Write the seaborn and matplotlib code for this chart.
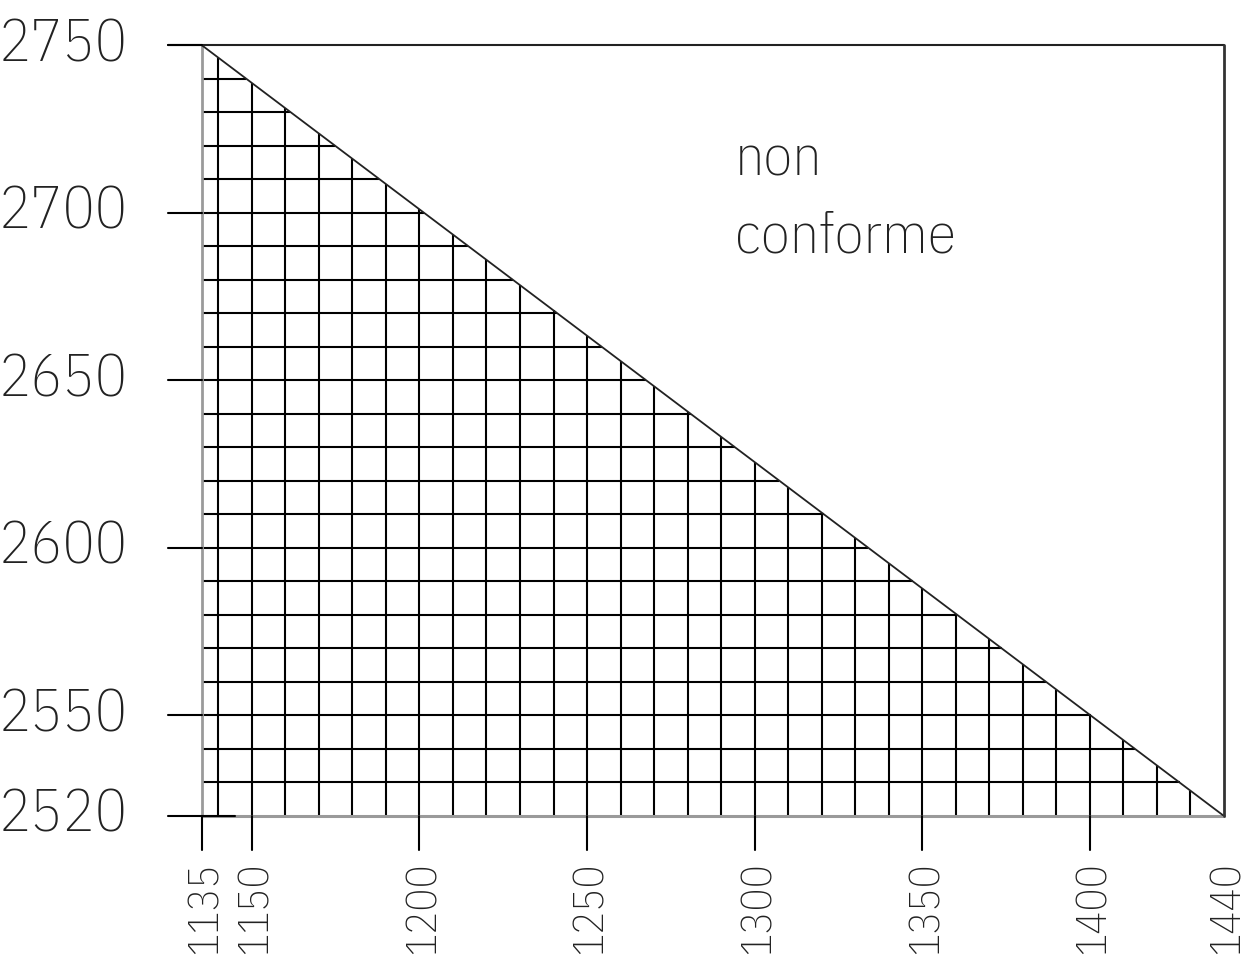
import numpy as np
import seaborn as sns
import matplotlib
matplotlib.use("Agg")
import matplotlib.pyplot as plt
import pandas as pd

sns.set_style("white")
plt.rcParams['font.family'] = ['IBM Plex Sans Condensed', 'DejaVu Sans']
plt.rcParams['font.weight'] = 200

# limit line of the conform zone (triangle hypotenuse)
limit_x = [1135, 1440]
limit_y = [2750, 2520]

x_ticks = [1135, 1150, 1200, 1250, 1300, 1350, 1400, 1440]
y_ticks = [2520, 2550, 2600, 2650, 2700, 2750]
grid_step = 10

label_text = ["non", "conforme"]

x_min, x_max = 1125, 1440
y_min, y_max = 2520, 2750

fig = plt.figure(figsize=(12.56, 9.6), dpi=100)
ax = fig.add_axes([168 / 1256, (960 - 816) / 960, 1056 / 1256, 771 / 960])
ax.set_xlim(x_min, x_max)
ax.set_ylim(y_min, y_max)


def limit_at(x):
    return np.interp(x, limit_x, limit_y)


# hatched grid inside the triangle
grid_xs = np.insert(np.arange(1150, limit_x[1], grid_step), 0, 1140)
for gx in grid_xs:
    ax.plot([gx, gx], [y_min, limit_at(gx)], color="black", lw=1.5, solid_capstyle="butt")
grid_ys = np.arange(y_min + grid_step, y_max, grid_step)
for gy in grid_ys:
    gx_end = np.interp(gy, limit_y[::-1], limit_x[::-1])
    ax.plot([limit_x[0], gx_end], [gy, gy], color="black", lw=1.5, solid_capstyle="butt")

# left edge and bottom edge of zone (grey)
ax.plot([limit_x[0], limit_x[0]], [y_min, y_max], color="#9a9a9a", lw=2)
ax.plot([limit_x[0], x_max], [y_min, y_min], color="#9a9a9a", lw=2.2, clip_on=False)

# hypotenuse
df = pd.DataFrame({"x": limit_x, "y": limit_y})
sns.lineplot(data=df, x="x", y="y", color="#222222", lw=1.3, ax=ax)
ax.axis("off")

# outer frame: top and right
ax.plot([x_min, x_max], [y_max, y_max], color="#222222", lw=1.5, clip_on=False)
ax.plot([x_max, x_max], [y_min, y_max], color="#333333", lw=2, clip_on=False)

# y ticks and labels
for yt in y_ticks:
    x_end = 1145 if yt == y_min else limit_x[0]
    ax.plot([x_min, x_end], [yt, yt], color="black", lw=1.5, clip_on=False)
    ax.text(1113, yt, str(yt), ha="right", va="center", fontsize=43,
            color="#222222")

# x ticks and labels
for xt in x_ticks:
    if xt != x_max:
        ax.plot([xt, xt], [y_min - 10, y_min], color="black", lw=1.5, clip_on=False)
    ax.text(xt + 1, 2506.5, str(xt), rotation=90, ha="center", va="top",
            fontsize=31, color="#222222", clip_on=False)

ax.text(1294, 2711, label_text[0], ha="left", va="baseline", fontsize=42, color="#222222")
ax.text(1294, 2688, label_text[1], ha="left", va="baseline", fontsize=42, color="#222222")

fig.savefig("out.png", dpi=100)
